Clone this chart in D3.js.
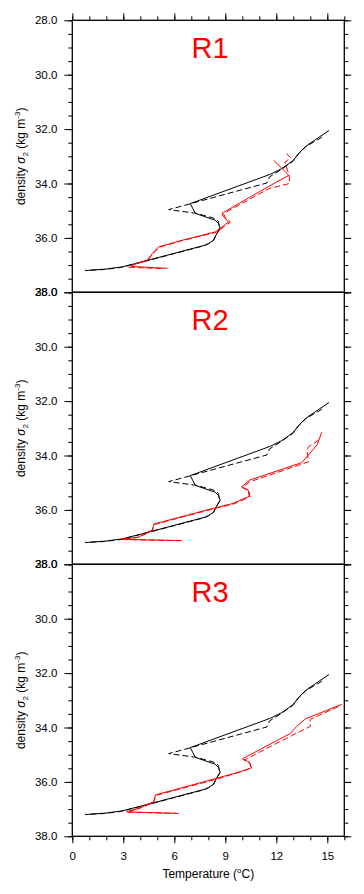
<!DOCTYPE html>
<html>
<head>
<meta charset="utf-8">
<script src="https://cdn.jsdelivr.net/npm/d3@7"></script>
<style>
  body { margin: 0; background: #fff; }
  svg { display: block; font-family: "Liberation Sans", Arial, Helvetica, sans-serif; }
</style>
</head>
<body>
<svg class="chart"></svg>
<script>
var width = 364,
    height = 894;

// panel titles
var panelNames = ["R1", "R2", "R3"];

// tick values
var xMajor = [0, 3, 6, 9, 12, 15],
    xMinor = d3.range(0, 17, 1),
    yMajor = [28, 30, 32, 34, 36, 38],
    yMinor = d3.range(28, 38.01, 0.5);

// black reference profiles (same in every panel): [temperature, sigma2]
var blackSolid = [
    [15.1, 32.05], [13.8, 32.6], [13.3, 32.9], [13.0, 33.15], [12.33, 33.45],
    [11.65, 33.66], [6.94, 34.74], [7.24, 35.1], [8.4, 35.35], [8.6, 35.47],
    [8.7, 35.66], [8.5, 35.84], [8.3, 36.09], [8.0, 36.21], [7.8, 36.27],
    [4.1, 36.88], [2.9, 37.07], [1.9, 37.15], [0.75, 37.2]
];
var blackDashed = [
    [14.7, 32.29], [13.7, 32.66], [13.3, 32.92], [13.0, 33.17], [12.33, 33.47],
    [11.6, 33.76], [11.45, 33.98], [5.67, 34.96], [7.33, 35.1], [8.4, 35.29],
    [8.6, 35.4], [8.67, 35.66], [8.5, 35.86], [8.3, 36.1], [8.0, 36.22],
    [7.8, 36.28], [4.1, 36.89], [2.9, 37.08], [1.9, 37.16], [0.75, 37.2]
];

// red profiles per panel
var redSolidR1 = [
    [11.85, 33.15], [12.73, 33.7], [11.0, 34.3], [9.1, 34.99], [8.8, 35.1],
    [8.9, 35.23], [9.2, 35.41], [8.41, 35.78], [6.45, 36.09], [5.08, 36.33],
    [4.7, 36.58], [4.4, 36.82], [3.7, 36.95], [3.5, 37.05], [5.6, 37.12]
];
var redDashedR1 = [
    [12.6, 32.9], [12.85, 33.05], [12.5, 33.22], [12.77, 33.72], [12.77, 34.0],
    [11.55, 34.19], [9.2, 35.0], [8.9, 35.12], [9.0, 35.25], [9.3, 35.42],
    [8.45, 35.8], [6.45, 36.1], [5.1, 36.35], [4.72, 36.6], [4.42, 36.84],
    [3.6, 36.98], [3.3, 37.08], [5.4, 37.13]
];
var redSolidR2 = [
    [14.67, 33.15], [14.4, 33.61], [13.5, 34.26], [11.04, 34.78], [10.45, 34.9],
    [9.96, 35.15], [10.35, 35.27], [10.4, 35.5], [9.47, 35.76], [8.3, 35.94],
    [4.8, 36.52], [4.7, 36.74], [3.9, 37.0], [2.9, 37.08], [6.45, 37.13]
];
var redDashedR2 = [
    [14.5, 33.43], [13.9, 33.68], [13.8, 33.8], [13.9, 34.23], [11.1, 34.83],
    [10.45, 34.96], [10.0, 35.18], [10.4, 35.3], [10.45, 35.52], [9.5, 35.78],
    [8.3, 35.96], [4.82, 36.54], [4.72, 36.76], [3.9, 37.01], [2.9, 37.09],
    [6.3, 37.13]
];
var redSolidR3 = [
    [15.85, 33.15], [13.72, 33.68], [13.2, 33.96], [12.8, 34.23], [10.0, 35.15],
    [10.4, 35.27], [10.55, 35.48], [9.9, 35.62], [8.6, 35.85], [4.88, 36.48],
    [4.79, 36.73], [3.9, 36.97], [3.2, 37.1], [6.26, 37.16]
];
var redDashedR3 = [
    [15.65, 33.23], [14.0, 33.7], [14.0, 33.96], [12.9, 34.3], [10.1, 35.2],
    [10.45, 35.3], [10.5, 35.5], [9.85, 35.64], [8.6, 35.88], [4.9, 36.5],
    [4.8, 36.75], [3.9, 36.99], [3.2, 37.11], [6.1, 37.16]
];

var redSolid = [redSolidR1, redSolidR2, redSolidR3],
    redDashed = [redDashedR1, redDashedR2, redDashedR3];

var left = 72.3,
    right = 344.3,
    panelTop = 20.3,
    panelHeight = 272;

var svg = d3.select(".chart")
    .attr("width", width)
    .attr("height", height);

var x = d3.scaleLinear().domain([0, 16]).range([left, right]);

function styleAxis(g) {
    g.select(".domain").remove();
    g.selectAll(".tick line").attr("stroke", "#000").attr("stroke-width", 1);
    g.selectAll(".tick text")
        .attr("fill", "#000")
        .attr("font-size", 11.5)
        .attr("font-family", "Liberation Sans, Arial, Helvetica, sans-serif");
}

panelNames.forEach(function (name, p) {
    var top = panelTop + p * panelHeight,
        bottom = top + panelHeight;

    var y = d3.scaleLinear().domain([28, 38]).range([top, bottom]);

    var line = d3.line()
        .x(function (d) { return x(d[0]); })
        .y(function (d) { return y(d[1]); });

    var g = svg.append("g");

    // left axis
    g.append("g")
        .attr("transform", "translate(" + left + ",0)")
        .call(d3.axisLeft(y).tickValues(yMinor).tickSize(4).tickFormat(""))
        .call(styleAxis);
    g.append("g")
        .attr("transform", "translate(" + left + ",0)")
        .call(d3.axisLeft(y).tickValues(yMajor).tickSize(8).tickPadding(7)
            .tickFormat(d3.format(".1f")))
        .call(styleAxis);

    // right axis
    g.append("g")
        .attr("transform", "translate(" + right + ",0)")
        .call(d3.axisRight(y).tickValues(yMinor).tickSize(4).tickFormat(""))
        .call(styleAxis);
    g.append("g")
        .attr("transform", "translate(" + right + ",0)")
        .call(d3.axisRight(y).tickValues(yMajor).tickSize(7).tickFormat(""))
        .call(styleAxis);

    if (p === 0) {
        g.append("g")
            .attr("transform", "translate(0," + top + ")")
            .call(d3.axisTop(x).tickValues(xMinor).tickSize(4).tickFormat(""))
            .call(styleAxis);
        g.append("g")
            .attr("transform", "translate(0," + top + ")")
            .call(d3.axisTop(x).tickValues(xMajor).tickSize(7).tickFormat(""))
            .call(styleAxis);
    }
    if (p === panelNames.length - 1) {
        g.append("g")
            .attr("transform", "translate(0," + bottom + ")")
            .call(d3.axisBottom(x).tickValues(xMinor).tickSize(4).tickFormat(""))
            .call(styleAxis);
        g.append("g")
            .attr("transform", "translate(0," + bottom + ")")
            .call(d3.axisBottom(x).tickValues(xMajor).tickSize(7).tickPadding(9))
            .call(styleAxis);
    }

    // profiles
    g.append("path").datum(blackSolid)
        .attr("d", line).attr("fill", "none")
        .attr("stroke", "#000").attr("stroke-width", 1);
    g.append("path").datum(blackDashed)
        .attr("d", line).attr("fill", "none")
        .attr("stroke", "#000").attr("stroke-width", 1)
        .attr("stroke-dasharray", "6,3");
    g.append("path").datum(redDashed[p])
        .attr("d", line).attr("fill", "none")
        .attr("stroke", "#ff0000").attr("stroke-width", 1)
        .attr("stroke-dasharray", "6,3");
    g.append("path").datum(redSolid[p])
        .attr("d", line).attr("fill", "none")
        .attr("stroke", "#ff0000").attr("stroke-width", 1);

    // frame
    g.append("rect")
        .attr("x", left).attr("y", top)
        .attr("width", right - left).attr("height", panelHeight)
        .attr("fill", "none").attr("stroke", "#000").attr("stroke-width", 1.3);

    // panel title
    g.append("text")
        .attr("x", 210).attr("y", top + 38)
        .attr("text-anchor", "middle")
        .attr("font-size", 29)
        .attr("fill", "#ff0000")
        .text(name);

    // y axis title
    var yt = g.append("text")
        .attr("transform", "translate(25," + (top + panelHeight / 2) + ") rotate(-90)")
        .attr("text-anchor", "middle")
        .attr("font-size", 12)
        .attr("fill", "#000");
    yt.append("tspan").text("density ");
    yt.append("tspan").attr("font-style", "italic").text("\u03c3");
    yt.append("tspan").attr("font-size", 8).attr("dy", 3).text("2");
    yt.append("tspan").attr("dy", -3).text(" (kg m");
    yt.append("tspan").attr("font-size", 8).attr("dy", -5).text("-3");
    yt.append("tspan").attr("dy", 5).text(")");
});

// x axis title
var xt = svg.append("text")
    .attr("x", (left + right) / 2)
    .attr("y", 878)
    .attr("text-anchor", "middle")
    .attr("font-size", 12)
    .attr("fill", "#000");
xt.append("tspan").text("Temperature (");
xt.append("tspan").attr("font-size", 8).attr("dy", -5).text("o");
xt.append("tspan").attr("dy", 5).text("C)");
</script>
</body>
</html>
